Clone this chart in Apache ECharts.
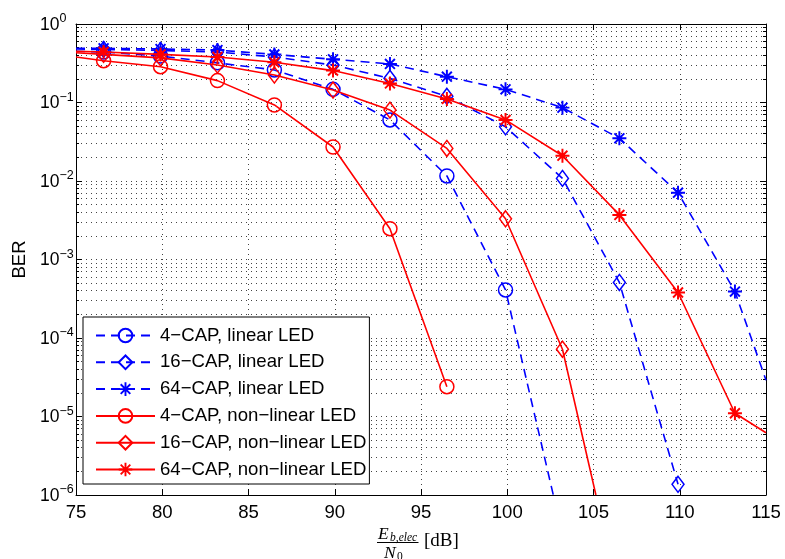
<!DOCTYPE html>
<html><head><meta charset="utf-8">
<script src="https://cdn.jsdelivr.net/npm/echarts@6/dist/echarts.min.js"></script>
<style>html,body{margin:0;padding:0;background:#fff}#c{width:785px;height:559px}</style>
</head><body><div id="c"></div>
<script>
// x positions where markers are drawn
const markX = [76.6, 79.9, 83.2, 86.5, 89.9, 93.2, 96.5, 99.9, 103.2, 106.5, 109.9, 113.2];

const lin4X = [75, 76.6, 79.9, 83.2, 86.5, 89.9, 93.2, 96.5, 99.9, 102.67];
const lin4Y = [0.45, 0.44, 0.39, 0.32, 0.26, 0.147, 0.06, 0.0116, 4.1e-4, 1e-6];

const lin16X = [75, 76.6, 79.9, 83.2, 86.5, 89.9, 93.2, 96.5, 99.9, 103.2, 106.5, 109.9];
const lin16Y = [0.48, 0.475, 0.46, 0.44, 0.38, 0.30, 0.203, 0.12, 0.049, 0.0108, 5.1e-4, 1.37e-6];

const lin64X = [75, 76.6, 79.9, 83.2, 86.5, 89.9, 93.2, 96.5, 99.9, 103.2, 106.5, 109.9, 113.2, 115];
const lin64Y = [0.49, 0.49, 0.48, 0.466, 0.41, 0.355, 0.31, 0.213, 0.147, 0.086, 0.035, 7.1e-3, 3.9e-4, 2.9e-5];

const nl4X = [75, 76.6, 79.9, 83.2, 86.5, 89.9, 93.2, 96.5];
const nl4Y = [0.38, 0.341, 0.286, 0.19, 0.093, 0.0271, 2.47e-3, 2.4e-5];

const nl16X = [75, 76.6, 79.9, 83.2, 86.5, 89.9, 93.2, 96.5, 99.9, 103.2, 105.14];
const nl16Y = [0.43, 0.41, 0.37, 0.30, 0.224, 0.144, 0.080, 0.026, 3.3e-3, 7.2e-5, 1e-6];

const nl64X = [75, 76.6, 79.9, 83.2, 86.5, 89.9, 93.2, 96.5, 99.9, 103.2, 106.5, 109.9, 113.2, 115];
const nl64Y = [0.45, 0.44, 0.41, 0.38, 0.325, 0.255, 0.175, 0.111, 0.060, 0.021, 3.7e-3, 3.8e-4, 1.1e-5, 6.2e-6];

const names = ['4\u2212CAP, linear LED', '16\u2212CAP, linear LED', '64\u2212CAP, linear LED',
  '4\u2212CAP, non\u2212linear LED', '16\u2212CAP, non\u2212linear LED', '64\u2212CAP, non\u2212linear LED'];

const BLUE = '#0000ff', RED = '#ff0000';
const FONT = '"Liberation Sans", Arial, sans-serif';
const starPath = 'path://M0 8.6L20 8.6L20 11.4L0 11.4Z M8.6 0L11.4 0L11.4 20L8.6 20Z M3.92 1.94L18.06 16.08L16.08 18.06L1.94 3.92Z M18.06 3.92L3.92 18.06L1.94 16.08L16.08 1.94Z';

function build(xs, ys) {
  return xs.map((x, i) => markX.indexOf(x) >= 0 ? { value: [x, ys[i]] } : { value: [x, ys[i]], symbol: 'none' });
}
function mkSeries(name, xs, ys, color, dashed, kind) {
  let symbol, size, itemStyle;
  if (kind === 'circle') { symbol = 'circle'; size = 14; itemStyle = { color: 'rgba(255,255,255,0)', borderColor: color, borderWidth: 1.5 }; }
  else if (kind === 'diamond') { symbol = 'diamond'; size = [12, 16]; itemStyle = { color: 'rgba(255,255,255,0)', borderColor: color, borderWidth: 1.5 }; }
  else { symbol = starPath; size = 14; itemStyle = { color: color, borderWidth: 0 }; }
  return {
    name: name, type: 'line', data: build(xs, ys), symbol: symbol, symbolSize: size,
    showSymbol: true, showAllSymbol: true, itemStyle: itemStyle,
    lineStyle: { color: color, width: 1.6, type: dashed ? [9, 6] : 'solid' },
    emphasis: { disabled: true }, xAxisIndex: 0, yAxisIndex: 0, z: dashed ? 3 : 4
  };
}

const gridLine = { show: true, lineStyle: { color: '#444', width: 1, type: [1, 4] } };

const chart = echarts.init(document.getElementById('c'), null, { renderer: 'canvas' });
chart.setOption({
  animation: false,
  backgroundColor: '#fff',
  grid: { left: 76, right: 19, top: 24, bottom: 64, containLabel: false },
  xAxis: [{
    type: 'value', min: 75, max: 115, interval: 5, position: 'bottom',
    axisLine: { show: true, onZero: false, lineStyle: { color: '#000', width: 1 } },
    axisTick: { show: true, inside: true, length: 6, lineStyle: { color: '#000' } },
    axisLabel: { color: '#000', fontSize: 18.6, fontFamily: FONT, margin: 8 },
    splitLine: gridLine
  }, {
    type: 'value', min: 75, max: 115, interval: 5, position: 'top',
    axisLine: { show: true, onZero: false, lineStyle: { color: '#000', width: 1 } },
    axisTick: { show: true, inside: true, length: 6, lineStyle: { color: '#000' } },
    axisLabel: { show: false }, splitLine: { show: false }
  }],
  yAxis: [{
    type: 'log', logBase: 10, min: 1e-6, max: 1, interval: 1, position: 'left',
    name: 'BER', nameLocation: 'middle', nameGap: 46,
    nameTextStyle: { color: '#000', fontSize: 18.6, fontFamily: FONT },
    axisLine: { show: true, onZero: false, lineStyle: { color: '#000', width: 1 } },
    axisTick: { show: true, inside: true, length: 6, lineStyle: { color: '#000' } },
    minorTick: { show: true, splitNumber: 9, length: 3, lineStyle: { color: '#000' } },
    minorSplitLine: gridLine,
    splitLine: gridLine,
    axisLabel: {
      color: '#000', align: 'left', margin: 36, padding: [10, 0, 0, 0],
      formatter: function (v) {
        const e = Math.round(Math.log10(v));
        return '{b|10}{s|' + (e < 0 ? '\u2212' + (-e) : e) + '}';
      },
      rich: {
        b: { fontSize: 17.5, fontFamily: FONT, color: '#000', lineHeight: 17, padding: [3.5, 0, 3.5, 0], verticalAlign: 'bottom' },
        s: { fontSize: 12.5, fontFamily: FONT, color: '#000', lineHeight: 12, padding: [0, 0, 12, 0], verticalAlign: 'bottom' }
      }
    }
  }, {
    type: 'log', logBase: 10, min: 1e-6, max: 1, interval: 1, position: 'right',
    axisLine: { show: true, onZero: false, lineStyle: { color: '#000', width: 1 } },
    axisTick: { show: true, inside: true, length: 6, lineStyle: { color: '#000' } },
    minorTick: { show: true, splitNumber: 9, length: 3, lineStyle: { color: '#000' } },
    axisLabel: { show: false }, splitLine: { show: false }
  }],
  legend: {
    orient: 'vertical', left: 83, top: 317,
    padding: [9, 3, 5, 12], itemWidth: 59, itemHeight: 17, itemGap: 7.8,
    backgroundColor: '#fff', borderColor: '#000', borderWidth: 1,
    textStyle: { color: '#000', fontSize: 18.6, fontFamily: FONT, lineHeight: 18 },
    data: names
  },
  graphic: [
    { type: 'text', x: 378, y: 525, style: { text: 'E', font: 'italic 17.5px "Liberation Serif", serif', fill: '#000', verticalAlign: 'top' } },
    { type: 'text', x: 390, y: 531.5, style: { text: 'b,elec', font: 'italic 11.5px "Liberation Serif", serif', fill: '#000', verticalAlign: 'top' } },
    { type: 'line', shape: { x1: 377, y1: 542.5, x2: 418.5, y2: 542.5 }, style: { stroke: '#000', lineWidth: 1 } },
    { type: 'text', x: 384, y: 544, style: { text: 'N', font: 'italic 17.5px "Liberation Serif", serif', fill: '#000', verticalAlign: 'top' } },
    { type: 'text', x: 397, y: 551, style: { text: '0', font: '11.5px "Liberation Serif", serif', fill: '#000', verticalAlign: 'top' } },
    { type: 'text', x: 424, y: 541, style: { text: '[dB]', font: '19px "Liberation Serif", serif', fill: '#000', verticalAlign: 'middle' } }
  ],
  series: [
    mkSeries(names[0], lin4X, lin4Y, BLUE, true, 'circle'),
    mkSeries(names[1], lin16X, lin16Y, BLUE, true, 'diamond'),
    mkSeries(names[2], lin64X, lin64Y, BLUE, true, 'star'),
    mkSeries(names[3], nl4X, nl4Y, RED, false, 'circle'),
    mkSeries(names[4], nl16X, nl16Y, RED, false, 'diamond'),
    mkSeries(names[5], nl64X, nl64Y, RED, false, 'star')
  ]
});
</script></body></html>
